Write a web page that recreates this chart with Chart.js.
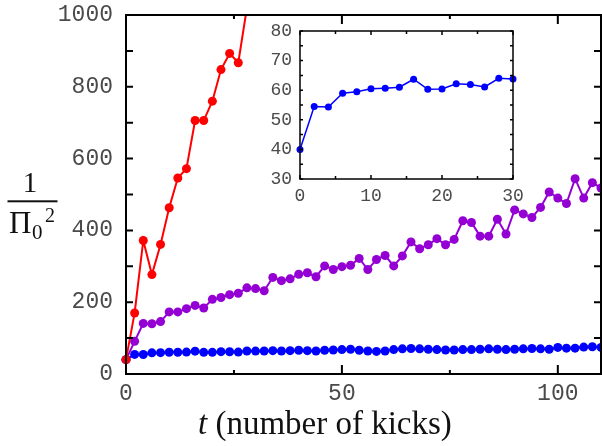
<!DOCTYPE html>
<html>
<head>
<meta charset="utf-8">
<script src="https://cdn.jsdelivr.net/npm/chart.js@4.4.1/dist/chart.umd.min.js"></script>
<style>
    html, body { margin: 0; padding: 0; background: #fff; }
    #wrap { position: relative; width: 602px; height: 446px; }
    #mainChart { position: absolute; left: 0; top: 0; }
    #insetChart { position: absolute; left: 250px; top: 20px; }
</style>
</head>
<body>
<div id="wrap">
    <canvas id="mainChart" width="602" height="446"></canvas>
    <canvas id="insetChart" width="280" height="185"></canvas>
</div>
<script>
// データ
const kicks = [0, 2, 4, 6, 8, 10, 12, 14, 16, 18, 20, 22, 24, 26, 28, 30, 32, 34, 36, 38,
    40, 42, 44, 46, 48, 50, 52, 54, 56, 58, 60, 62, 64, 66, 68, 70, 72, 74, 76, 78,
    80, 82, 84, 86, 88, 90, 92, 94, 96, 98, 100, 102, 104, 106, 108, 110];

const redValues = [40, 170, 372, 277, 361, 463, 546, 572, 706, 706, 760, 848, 893, 867, 1020];

const purpleValues = [40, 91, 141, 140, 146, 173, 173, 182, 191, 184, 208, 213, 221, 225, 240, 238, 232, 269, 260, 265,
    278, 282, 271, 301, 291, 299, 303, 322, 291, 319, 330, 301, 329, 368, 349, 360, 377, 360, 375, 427,
    422, 384, 384, 431, 390, 457, 446, 436, 464, 507, 490, 475, 544, 490, 533, 518];

const blueValues = [40, 54.5, 54.3, 59, 59.5, 60.5, 60.7, 61, 63.7, 60.3, 60.4, 62.2, 61.9, 61.1, 64, 63.8, 64, 65, 64, 65,
    66, 65, 64, 66, 67, 68, 69, 66, 64, 63, 64, 68, 70, 71, 70, 69, 68, 67, 67, 68,
    68, 69, 70, 69, 68, 69, 70, 71, 70, 69, 74, 72, 72, 75, 76, 74];

// 目盛り
const xTickLabels = [0, 50, 100];
const yTickLabels = [0, 200, 400, 600, 800, 1000];
const xMinorTicks = [25, 75];
const yMinorTicks = [100, 300, 500, 700, 900];

// 挿入図
const insetKicks = [0, 2, 4, 6, 8, 10, 12, 14, 16, 18, 20, 22, 24, 26, 28, 30];
const insetXTickLabels = [0, 10, 20, 30];
const insetYTickLabels = [30, 40, 50, 60, 70, 80];
const insetXMinorTicks = [5, 15, 25];
const insetYMinorTicks = [35, 45, 55, 65, 75];

const RED = '#ff0000';
const PURPLE = '#9400d3';
const BLUE = '#0000ff';
const TICK_COLOR = '#4a4a4a';

Chart.defaults.font.family = '"Liberation Mono", monospace';
Chart.defaults.color = TICK_COLOR;

function toPoints(xs, ys) {
    return ys.map((y, i) => ({ x: xs[i], y: y }));
}

// 枠と内向きの目盛りを描くプラグイン
function framePlugin(id, cfg) {
    return {
        id: id,
        afterDatasetsDraw(chart) {
            const ctx = chart.ctx;
            const { left, right, top, bottom } = chart.chartArea;
            const xs = chart.scales.x;
            const ys = chart.scales.y;
            ctx.save();
            ctx.strokeStyle = '#000';
            ctx.lineWidth = cfg.lineWidth;
            ctx.beginPath();
            const tick = (x1, y1, x2, y2) => { ctx.moveTo(x1, y1); ctx.lineTo(x2, y2); };
            cfg.xMajor.forEach(v => {
                const px = xs.getPixelForValue(v);
                tick(px, bottom, px, bottom - cfg.xMajorLen);
                tick(px, top, px, top + cfg.xMajorLen);
            });
            cfg.xMinor.forEach(v => {
                const px = xs.getPixelForValue(v);
                tick(px, bottom, px, bottom - cfg.xMinorLen);
                tick(px, top, px, top + cfg.xMinorLen);
            });
            cfg.yAll.forEach(v => {
                const py = ys.getPixelForValue(v);
                tick(left, py, left + cfg.yLen, py);
                tick(right, py, right - cfg.yLen, py);
            });
            ctx.stroke();
            ctx.strokeRect(left, top, right - left, bottom - top);
            ctx.restore();
        }
    };
}

// 軸タイトル
const titlePlugin = {
    id: 'titles',
    afterDraw(chart) {
        const ctx = chart.ctx;
        ctx.save();
        ctx.fillStyle = '#111';
        ctx.textBaseline = 'alphabetic';
        // x軸
        ctx.font = 'italic 33px "Liberation Serif"';
        ctx.textAlign = 'left';
        ctx.fillText('t', 198, 434);
        const w = ctx.measureText('t').width;
        ctx.font = '33px "Liberation Serif"';
        ctx.fillText(' (number of kicks)', 198 + w, 434);
        // y軸（分数）
        ctx.font = '29px "Liberation Serif"';
        ctx.textAlign = 'center';
        ctx.fillText('1', 30, 192);
        ctx.fillRect(7.5, 200.3, 50, 2);
        ctx.textAlign = 'left';
        ctx.font = '31px "Liberation Serif"';
        ctx.fillText('\u03A0', 9, 233);
        ctx.font = '21px "Liberation Serif"';
        ctx.fillText('0', 32, 238.5);
        ctx.font = '20px "Liberation Serif"';
        ctx.fillText('2', 45, 221.5);
        ctx.restore();
    }
};

function lineSet(color, data, radius, width, clip) {
    return {
        data: data,
        borderColor: color,
        backgroundColor: color,
        pointBackgroundColor: color,
        pointBorderWidth: 0,
        pointRadius: radius,
        borderWidth: width,
        tension: 0,
        clip: clip
    };
}

const plainLabel = v => String(v);
const noGrid = { display: false, drawTicks: false };
const mainClip = { left: 6, top: 0, right: 0, bottom: 6 };

// 軸の大きさを固定し、ラベル分の余白を消す
function fixX(height) {
    return s => { s.height = height; s.paddingLeft = 0; s.paddingRight = 0; };
}
function fixY(width) {
    return s => { s.width = width; s.paddingTop = 0; s.paddingBottom = 0; };
}

new Chart(document.getElementById('mainChart'), {
    type: 'line',
    data: {
        datasets: [
            lineSet(RED, toPoints(kicks, redValues), 4.5, 2, mainClip),
            lineSet(PURPLE, toPoints(kicks, purpleValues), 4.5, 2, mainClip),
            lineSet(BLUE, toPoints(kicks, blueValues), 4.5, 2, mainClip)
        ]
    },
    options: {
        responsive: false,
        animation: false,
        layout: { autoPadding: false, padding: { top: 15, right: 1, left: 0, bottom: 0 } },
        plugins: { legend: { display: false }, tooltip: { enabled: false } },
        scales: {
            x: {
                type: 'linear',
                min: 0,
                max: 110,
                grid: noGrid,
                border: { display: false },
                afterBuildTicks: s => { s.ticks = xTickLabels.map(v => ({ value: v })); },
                afterFit: fixX(72),
                ticks: { font: { size: 23 }, padding: 6, maxRotation: 0, callback: plainLabel }
            },
            y: {
                min: 0,
                max: 1000,
                grid: noGrid,
                border: { display: false },
                afterBuildTicks: s => { s.ticks = yTickLabels.map(v => ({ value: v })); },
                afterFit: fixY(126),
                ticks: { font: { size: 23 }, padding: 13, callback: plainLabel }
            }
        }
    },
    plugins: [
        framePlugin('mainFrame', {
            lineWidth: 2,
            xMajor: xTickLabels, xMinor: xMinorTicks, xMajorLen: 9, xMinorLen: 4,
            yAll: yTickLabels.concat(yMinorTicks), yLen: 7
        }),
        titlePlugin
    ]
});

new Chart(document.getElementById('insetChart'), {
    type: 'line',
    data: {
        datasets: [
            lineSet(BLUE, toPoints(insetKicks, blueValues.slice(0, insetKicks.length)), 3.5, 1.5, false)
        ]
    },
    options: {
        responsive: false,
        animation: false,
        layout: { autoPadding: false, padding: { top: 11, right: 17, left: 0, bottom: 0 } },
        plugins: { legend: { display: false }, tooltip: { enabled: false } },
        scales: {
            x: {
                type: 'linear',
                min: 0,
                max: 30,
                grid: noGrid,
                border: { display: false },
                afterBuildTicks: s => { s.ticks = insetXTickLabels.map(v => ({ value: v })); },
                afterFit: fixX(26),
                ticks: { font: { size: 18 }, padding: 6, maxRotation: 0, callback: plainLabel }
            },
            y: {
                min: 30,
                max: 80,
                grid: noGrid,
                border: { display: false },
                afterBuildTicks: s => { s.ticks = insetYTickLabels.map(v => ({ value: v })); },
                afterFit: fixY(50),
                ticks: { font: { size: 18 }, padding: 8, callback: plainLabel }
            }
        }
    },
    plugins: [
        framePlugin('insetFrame', {
            lineWidth: 1.5,
            xMajor: insetXTickLabels, xMinor: insetXMinorTicks, xMajorLen: 4, xMinorLen: 3,
            yAll: insetYTickLabels.concat(insetYMinorTicks), yLen: 3
        })
    ]
});
</script>
</body>
</html>
